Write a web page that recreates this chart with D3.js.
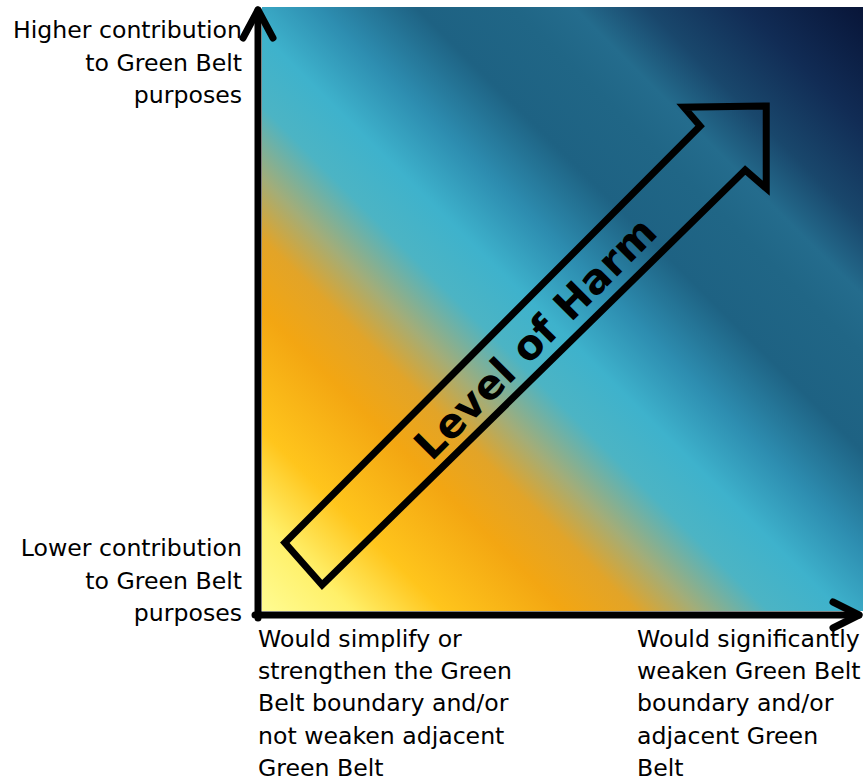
<!DOCTYPE html>
<html><head><meta charset="utf-8">
<script src="https://cdn.jsdelivr.net/npm/d3@7"></script>
<style>body{margin:0;background:#fff}</style>
</head><body><svg id="chart" width="867" height="783"></svg>
<script>
// ---- data ----
const highYLabel = ["Higher contribution", "to Green Belt", "purposes"];
const lowYLabel = ["Lower contribution", "to Green Belt", "purposes"];
const lowXLabel = ["Would simplify or", "strengthen the Green", "Belt boundary and/or", "not weaken adjacent", "Green Belt"];
const highXLabel = ["Would significantly", "weaken Green Belt", "boundary and/or", "adjacent Green", "Belt"];
const arrowLabel = "Level of Harm";
// harm gradient along the diagonal (0 = low/low corner, 1 = high/high corner)
const harmStops = [0, 0.075, 0.15, 0.25, 0.31, 0.36, 0.42, 0.48, 0.55, 0.63, 0.71, 0.76, 0.82, 0.9, 1];
const harmColors = ["#fffc92", "#fff06a", "#ffc51c", "#f3a612", "#e2a428", "#a3ad78", "#4cb4c4", "#3eb2cc", "#2d8db0", "#1e6283", "#206686", "#246c8d", "#19476c", "#112c55", "#081538"];
// arrow outline in chart units (x: boundary impact, y: contribution)
const arrowX = [0.038, 0.729, 0.702, 0.839, 0.839, 0.804, 0.100];
const arrowY = [0.113, 0.803, 0.834, 0.836, 0.700, 0.730, 0.043];
const labelPos = [0.454, 0.452];

// ---- chart ----
const svg = d3.select("#chart");
const x = d3.scaleLinear().domain([0, 1]).range([262, 863]);
const y = d3.scaleLinear().domain([0, 1]).range([611, 7]);
const font = "'DejaVu Sans', Verdana, sans-serif";

const defs = svg.append("defs");
const grad = defs.append("linearGradient").attr("id", "harm")
  .attr("gradientUnits", "userSpaceOnUse")
  .attr("x1", x(0)).attr("y1", y(0)).attr("x2", x(1)).attr("y2", y(1));
grad.selectAll("stop").data(harmStops).join("stop")
  .attr("offset", d => d)
  .attr("stop-color", (d, i) => harmColors[i]);

svg.append("rect")
  .attr("x", x(0)).attr("y", y(1))
  .attr("width", x(1) - x(0)).attr("height", y(0) - y(1))
  .attr("fill", "url(#harm)");

// axes
const axisG = svg.append("g").attr("stroke", "#000").attr("fill", "none")
  .attr("stroke-width", 7).attr("stroke-linecap", "round").attr("stroke-linejoin", "round");
const ax0 = x(0) - 4, ay0 = y(0) + 4;
axisG.append("line").attr("x1", ax0).attr("y1", ay0 + 3).attr("x2", ax0).attr("y2", y(1) + 3);
axisG.append("polyline").attr("points", [[ax0 - 15, y(1) + 31], [ax0, y(1) + 3], [ax0 + 15, y(1) + 31]].join(" "));
axisG.append("line").attr("x1", ax0 - 3).attr("y1", ay0).attr("x2", x(1) - 4).attr("y2", ay0);
axisG.append("polyline").attr("points", [[x(1) - 30, ay0 - 13], [x(1) - 4, ay0], [x(1) - 30, ay0 + 13]].join(" "));

// big arrow
const line = d3.line().x(d => x(d[0])).y(d => y(d[1]));
svg.append("path")
  .attr("d", line(arrowX.map((d, i) => [d, arrowY[i]])) + "Z")
  .attr("fill", "none").attr("stroke", "#000").attr("stroke-width", 7)
  .attr("stroke-linejoin", "miter");

svg.append("text")
  .attr("transform", `translate(${x(labelPos[0])},${y(labelPos[1])}) rotate(-45)`)
  .attr("text-anchor", "middle").attr("dy", "0.36em")
  .attr("font-family", font).attr("font-weight", "bold").attr("font-size", 41)
  .attr("fill", "#000").text(arrowLabel);

// labels
function block(lines, xx, y0, anchor, step) {
  const t = svg.append("text").attr("font-family", font).attr("font-size", 23.6)
    .attr("fill", "#000").attr("text-anchor", anchor);
  t.selectAll("tspan").data(lines).join("tspan")
    .attr("x", xx).attr("y", (d, i) => y0 + i * step).text(d => d);
}
block(highYLabel, 242, 38, "end", 32.5);
block(lowYLabel, 242, 556, "end", 32.5);
block(lowXLabel, 258, 647, "start", 32.2);
block(highXLabel, 637, 647, "start", 32.2);
</script></body></html>
